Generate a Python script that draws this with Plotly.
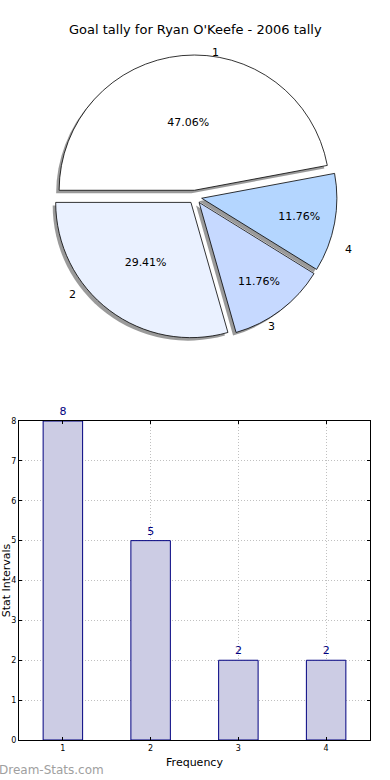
import numpy as np
import plotly.graph_objects as go

# ---- data ----
slice_labels = ["1", "2", "3", "4"]
slice_values = [8, 5, 2, 2]
slice_colors = ["#ffffff", "#eaf1ff", "#c6d9ff", "#b4d6ff"]

bar_x = [1, 2, 3, 4]
bar_y = [8, 5, 2, 2]
y_ticks = [0, 1, 2, 3, 4, 5, 6, 7, 8]

title_text = "Goal tally for Ryan O'Keefe - 2006 tally"
x_title = "Frequency"
y_title = "Stat Intervals"
watermark = "Dream-Stats.com"

FONT = "DejaVu Sans"
W, H = 390, 780

explode = 0.05
pull = [explode] * len(slice_values)

# pie placement (px from left/top)
cx, cy = 195, 197
half = 142
def dom(dx=0, dy=0):
    x0 = (cx - half + dx) / W
    x1 = (cx + half + dx) / W
    y0 = (H - (cy + half + dy)) / H
    y1 = (H - (cy - half + dy)) / H
    return dict(x=[x0, x1], y=[y0, y1])

fig = go.Figure()

pie_common = dict(labels=slice_labels, values=slice_values, sort=False,
                  direction="counterclockwise", rotation=-90, pull=pull,
                  showlegend=False)

# shadow
fig.add_trace(go.Pie(
    marker=dict(colors=["rgba(120,120,120,0.75)"] * 4, line=dict(width=0)),
    textinfo="none", hoverinfo="skip", domain=dom(-3, 3), **pie_common,
))

# main pie with percents inside
fig.add_trace(go.Pie(
    marker=dict(colors=slice_colors, line=dict(color="#000000", width=0.8)),
    texttemplate="%{percent:.2%}", textposition="inside",
    insidetextorientation="horizontal",
    textfont=dict(family=FONT, size=11, color="#000000"),
    domain=dom(), **pie_common,
))

# slice labels placed outside at 1.1 radius along each slice's mid-angle
vals = np.array(slice_values, dtype=float)
frac = vals / vals.sum()
mid = (np.cumsum(frac) - frac / 2) * 2 * np.pi
rx, ry = 138, 126
label_anns = []
for lab, th in zip(slice_labels, mid):
    px = cx + (1.1 + explode) * rx * np.cos(th)
    py = cy - (1.1 + explode) * ry * np.sin(th)
    label_anns.append(dict(
        text=lab, xref="paper", yref="paper", x=px / W, y=(H - py) / H,
        xanchor="left" if np.cos(th) > 0 else "right", yanchor="middle",
        showarrow=False, font=dict(family=FONT, size=11, color="#000000")))

# bars
fig.add_trace(go.Bar(
    x=bar_x, y=bar_y, width=0.45,
    marker=dict(color="#ccccE4", line=dict(color="#000080", width=1)),
    text=[str(v) for v in bar_y], textposition="outside",
    textfont=dict(family=FONT, size=11, color="#000080"),
    cliponaxis=False, showlegend=False,
    xaxis="x", yaxis="y",
))

axis_common = dict(
    showline=True, linecolor="#000000", linewidth=1, mirror="ticks",
    ticks="inside", ticklen=3, tickcolor="#000000",
    showgrid=True, gridcolor="#c0c0c0", griddash="1px,2px", gridwidth=1,
    zeroline=False, tickfont=dict(family=FONT, size=8, color="#000000"),
    automargin=False,
)

fig.update_layout(
    width=W, height=H,
    margin=dict(l=0, r=0, t=0, b=0),
    paper_bgcolor="#ffffff", plot_bgcolor="#ffffff",
    font=dict(family=FONT, color="#000000"),
    uniformtext=dict(minsize=8),
    xaxis=dict(
        domain=[19 / W, 370 / W], range=[0.5, 4.5],
        tickvals=bar_x, ticktext=[str(v) for v in bar_x],
        title=dict(text=x_title, font=dict(family=FONT, size=11), standoff=6),
        anchor="y", **axis_common,
    ),
    yaxis=dict(
        domain=[(H - 740) / H, (H - 421) / H], range=[0, 8],
        tickvals=y_ticks,
        title=dict(text=y_title, font=dict(family=FONT, size=11), standoff=0),
        anchor="x", **axis_common,
    ),
    annotations=[
        dict(text=title_text, xref="paper", yref="paper", x=195 / W, y=(H - 30) / H,
             xanchor="center", yanchor="middle", showarrow=False,
             font=dict(family=FONT, size=13, color="#000000")),
        dict(text=watermark, xref="paper", yref="paper", x=-3 / W, y=(H - 770) / H,
             xanchor="left", yanchor="middle", showarrow=False,
             font=dict(family=FONT, size=12, color="#a0a0a0")),
    ] + label_anns,
)

fig.write_html("out.html", config={"displayModeBar": False},
               post_script="document.body.style.margin='0px';")
